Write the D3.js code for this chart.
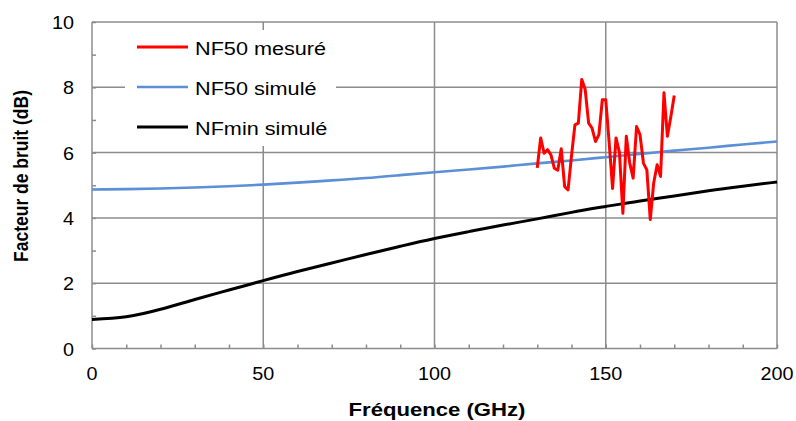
<!DOCTYPE html>
<html lang="fr">
<head>
<meta charset="UTF-8">
<title>Facteur de bruit</title>
<style>
	body { margin: 0; background: #fff; }
	text { font-family: "Liberation Sans", Arial, sans-serif; fill: #000; }
</style>
</head>
<body>
<svg id="chart" width="796" height="421"></svg>
<script src="https://cdn.jsdelivr.net/npm/d3@7"></script>
<script>
// frequencies (GHz) for the simulated curves
const simFreq = [0, 10, 20, 30, 40, 50, 60, 70, 80, 90, 100, 110, 120, 130, 140, 150, 160, 170, 180, 190, 200];
const nf50Sim = [4.87, 4.88, 4.9, 4.93, 4.97, 5.02, 5.08, 5.15, 5.22, 5.31, 5.4, 5.48, 5.57, 5.67, 5.76, 5.86, 5.96, 6.06, 6.15, 6.25, 6.34];
const nfminSim = [0.89, 0.97, 1.2, 1.5, 1.79, 2.08, 2.36, 2.62, 2.88, 3.13, 3.37, 3.58, 3.78, 3.97, 4.17, 4.35, 4.52, 4.67, 4.83, 4.97, 5.1];

// measured NF50, 130..170 GHz step 1
const measFreq = d3.range(130, 171, 1);
const nf50Meas = [5.53, 6.45, 5.98, 6.09, 5.93, 5.52, 5.46, 6.12, 4.96, 4.86,
	5.9, 6.85, 6.9, 8.24, 7.93, 6.9, 6.75, 6.34, 6.55, 7.62,
	7.62, 6.3, 4.9, 6.45, 6.0, 4.14, 6.5, 5.68, 5.22, 6.8,
	6.55, 5.68, 5.47, 3.95, 5.07, 5.63, 5.27, 7.83, 6.5, 7.1, 7.75];

const series = [
	{name: "NF50 mesuré", x: measFreq, y: nf50Meas, color: "#ff0000", w: 3},
	{name: "NF50 simulé", x: simFreq, y: nf50Sim, color: "#5b8fd6", w: 2.6},
	{name: "NFmin simulé", x: simFreq, y: nfminSim, color: "#000000", w: 3}
];

const xTicks = [0, 50, 100, 150, 200];
const yTicks = [0, 2, 4, 6, 8, 10];

const svg = d3.select("#chart");
const m = {left: 92, right: 777, top: 22, bottom: 348.5};

const x = d3.scaleLinear().domain([0, 200]).range([m.left, m.right]);
const y = d3.scaleLinear().domain([0, 10]).range([m.bottom, m.top]);

const gridColor = "#8c8c8c";

// grid
const grid = svg.append("g");
grid.selectAll(".hg").data(yTicks.slice(1)).enter().append("line")
	.attr("x1", m.left).attr("x2", m.right)
	.attr("y1", d => y(d)).attr("y2", d => y(d))
	.attr("stroke", gridColor).attr("stroke-width", 1.5);
grid.selectAll(".vg").data(xTicks.slice(1)).enter().append("line")
	.attr("y1", m.top).attr("y2", m.bottom)
	.attr("x1", d => x(d)).attr("x2", d => x(d))
	.attr("stroke", gridColor).attr("stroke-width", 1.5);

// axes (minor ticks pointing inward)
const xAxis = svg.append("g").attr("transform", `translate(0,${m.bottom})`)
	.call(d3.axisTop(x).tickValues(d3.range(0, 201, 10)).tickSize(4).tickFormat(""));
const yAxis = svg.append("g").attr("transform", `translate(${m.left},0)`)
	.call(d3.axisRight(y).tickValues(d3.range(0, 11, 1)).tickSize(4).tickFormat(""));
[xAxis, yAxis].forEach(a => {
	a.selectAll("path, line").attr("stroke", gridColor).attr("stroke-width", 1.5);
	a.select(".domain").attr("d", a === xAxis ? `M${m.left},0H${m.right}` : `M0,${m.top}V${m.bottom}`);
});

// tick labels (reference text is a bit wide, stretch horizontally)
svg.append("g").selectAll("text").data(xTicks).enter().append("text")
	.attr("transform", d => `translate(${x(d)},380) scale(1.1,1)`)
	.attr("text-anchor", "middle").attr("font-size", 18)
	.text(d => d);
svg.append("g").selectAll("text").data(yTicks).enter().append("text")
	.attr("transform", d => `translate(74,${y(d) + 7}) scale(1.1,1)`)
	.attr("text-anchor", "end").attr("font-size", 18)
	.text(d => d);

// axis titles
svg.append("text").attr("transform", "translate(437,416) scale(1.23,1)")
	.attr("text-anchor", "middle").attr("font-size", 18).attr("font-weight", "bold")
	.text("Fréquence (GHz)");
svg.append("text").attr("transform", "translate(28,176) rotate(-90) scale(1,1.15)")
	.attr("text-anchor", "middle").attr("font-size", 17.5).attr("font-weight", "bold")
	.text("Facteur de bruit (dB)");

// legend background (covers the grid)
svg.append("rect").attr("x", 125).attr("y", 30).attr("width", 211).attr("height", 116).attr("fill", "#fff");

// lines
const line = d3.line().x(d => x(d[0])).y(d => y(d[1]));
const curve = d3.line().x(d => x(d[0])).y(d => y(d[1])).curve(d3.curveNatural);
series.slice().reverse().forEach(s => {
	const pts = s.x.map((v, i) => [v, s.y[i]]);
	svg.append("path").datum(pts)
		.attr("d", s.name === "NF50 mesuré" ? line : curve)
		.attr("fill", "none").attr("stroke", s.color).attr("stroke-width", s.w)
		.attr("stroke-linejoin", "round");
});

// legend
const lg = svg.append("g");
series.forEach((s, i) => {
	const yy = 47 + i * 40;
	lg.append("line").attr("x1", 137).attr("x2", 188).attr("y1", yy).attr("y2", yy)
		.attr("stroke", s.color).attr("stroke-width", s.w);
	lg.append("text").attr("transform", `translate(195,${yy + 8}) scale(1.14,1)`)
		.attr("font-size", 19).text(s.name);
});
</script>
</body>
</html>
